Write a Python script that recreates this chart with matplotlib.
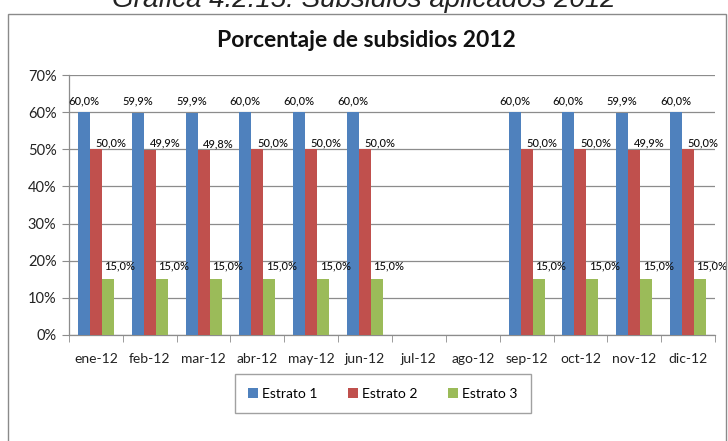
import numpy as np
import matplotlib
matplotlib.use("Agg")
import matplotlib.pyplot as plt
from matplotlib.patches import Rectangle
from matplotlib.ticker import FixedLocator

# Subsidy percentages per stratum, 2012 (no data for July and August)
months = ["ene-12", "feb-12", "mar-12", "abr-12", "may-12", "jun-12",
          "jul-12", "ago-12", "sep-12", "oct-12", "nov-12", "dic-12"]
estrato_1 = [60.0, 59.9, 59.9, 60.0, 60.0, 60.0, np.nan, np.nan, 60.0, 60.0, 59.9, 60.0]
estrato_2 = [50.0, 49.9, 49.8, 50.0, 50.0, 50.0, np.nan, np.nan, 50.0, 50.0, 49.9, 50.0]
estrato_3 = [15.0, 15.0, 15.0, 15.0, 15.0, 15.0, np.nan, np.nan, 15.0, 15.0, 15.0, 15.0]
series_names = ["Estrato 1", "Estrato 2", "Estrato 3"]
y_ticks = [0, 10, 20, 30, 40, 50, 60, 70]

colors = ["#4F81BD", "#C0504D", "#9BBB59"]
grid_gray = "#8C8C8C"
font = ["Lato", "DejaVu Sans"]

W, H = 728, 441
fig = plt.figure(figsize=(W / 100, H / 100), dpi=100)
fig.patch.set_facecolor("white")

# Outer chart frame
fig.patches.append(Rectangle((8 / W, -0.2), 718 / W, 1.2 - 14 / H,
                             transform=fig.transFigure, fill=False,
                             edgecolor="#8A8A8A", linewidth=1.0))

# Caption above the chart (its upper part runs off the top edge)
fig.text(364 / W, 1 - 7 / H, "Gráfica 4.2.15: Subsidios aplicados 2012",
         ha="center", va="baseline", fontsize=20, style="italic",
         family=["Liberation Sans", "DejaVu Sans"], color="#222222")

# Chart title
fig.text(366 / W, 1 - 47 / H, "Porcentaje de subsidios 2012",
         ha="center", va="baseline", fontsize=16.5, fontweight="bold",
         family=font, color="#111111")

ax = fig.add_axes([69 / W, 1 - 335 / H, (715 - 69) / W, (335 - 75) / H])
x = np.arange(len(months))
bw = 0.223
offsets = [-bw, 0.0, bw]
data = [estrato_1, estrato_2, estrato_3]

bars = []
for vals, off, col, name in zip(data, offsets, colors, series_names):
    b = ax.bar(x + off, vals, width=bw, color=col, label=name, zorder=3)
    bars.append(b)

# Value labels, nudged beside/above each bar
label_shift = [(0.0, 6), (0.28, 1), (0.22, 8)]  # (x in category units, y in pixels)
for vals, off, (dx, dy) in zip(data, offsets, label_shift):
    for xi, v in zip(x, vals):
        if np.isnan(v):
            continue
        txt = f"{v:.1f}%".replace(".", ",")
        ax.annotate(txt, (xi + off + dx, v), xytext=(0, dy), textcoords="offset pixels",
                    ha="center", va="bottom", fontsize=8, family=font,
                    fontweight="medium", color="#111111", zorder=4)

ax.set_xlim(-0.5, len(months) - 0.5)
ax.set_ylim(0, 70)
ax.set_yticks(y_ticks)
ax.set_yticklabels([f"{t}%" for t in y_ticks], family=font, fontsize=10.5, color="#222222")
ax.set_xticks(x)
ax.set_xticklabels(months, family=font, fontsize=10, color="#222222")
ax.xaxis.set_minor_locator(FixedLocator(np.arange(-0.5, len(months), 1.0)))
ax.tick_params(axis="x", which="major", length=0, pad=13)
ax.tick_params(axis="x", which="minor", length=5, color=grid_gray, direction="out")
ax.tick_params(axis="y", length=5, color=grid_gray, pad=4)

ax.grid(axis="y", color=grid_gray, linewidth=0.9, zorder=0)
ax.set_axisbelow(True)
for s in ["top", "right"]:
    ax.spines[s].set_visible(False)
for s in ["left", "bottom"]:
    ax.spines[s].set_color(grid_gray)
    ax.spines[s].set_linewidth(0.9)

leg = fig.legend(handles=bars, labels=series_names, loc="center",
                 bbox_to_anchor=(383 / W, 1 - 393.5 / H), ncol=3,
                 frameon=True, fancybox=False, edgecolor="#8A8A8A",
                 prop={"family": font, "size": 10}, handlelength=0.7,
                 handleheight=0.7, handletextpad=0.3, columnspacing=2.2,
                 borderpad=1.0)
leg.get_frame().set_linewidth(1.0)

fig.savefig("out.png", dpi=100, facecolor="white")
